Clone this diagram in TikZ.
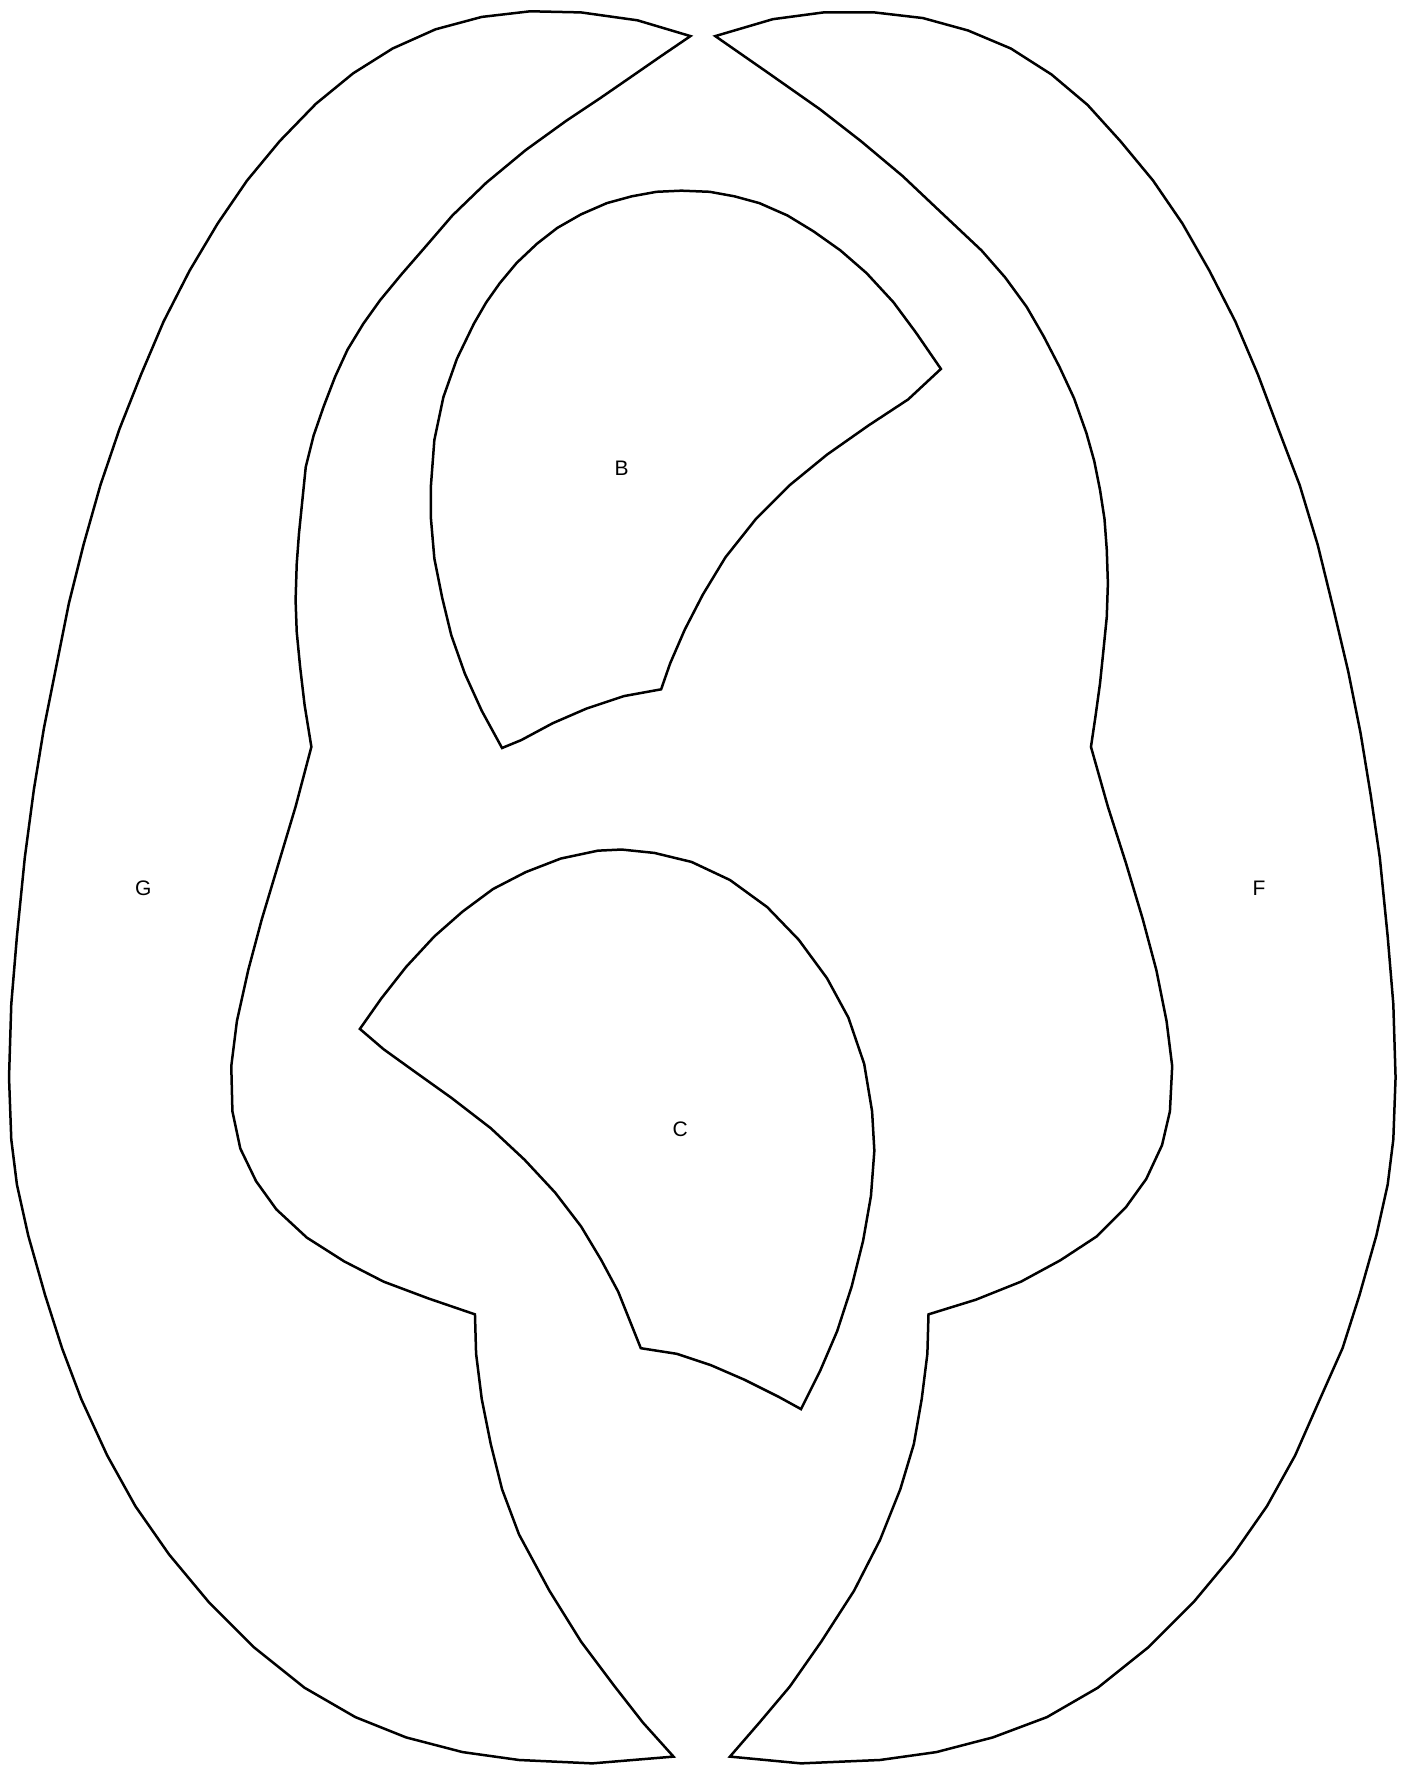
\documentclass[tikz,border=0pt]{standalone}
\usepackage{fontspec}
\setmainfont{Liberation Sans}
\begin{document}
\begin{tikzpicture}[x=1.1285pt,y=-1.1285pt,
  outline/.style={draw=black,line width=2.5pt,line join=miter},
  lbl/.style={font=\fontsize{21}{24}\selectfont,inner sep=0pt}]
\useasboundingbox[fill=white] (0,0) rectangle (1245,1568);
% G
\draw[outline] (612,32) -- (565,18) -- (515,11) -- (470,10) -- (427,15) -- (386,26) -- (348,43) -- (313,65) -- (280,92) -- (248,125) -- (219,160) -- (193,198) -- (168,240) -- (145,285) -- (125,332) -- (106,380) -- (89,430) -- (74,483) -- (61,535) -- (50,590) -- (39,645) -- (30,700) -- (22,760) -- (15,830) -- (10,890) -- (8,955) -- (10,1010) -- (15,1050) -- (25,1095) -- (40,1148) -- (55,1195) -- (72,1240) -- (95,1290) -- (120,1335) -- (150,1378) -- (185,1420) -- (225,1460) -- (270,1496) -- (315,1522) -- (360,1540) -- (410,1553) -- (460,1560) -- (525,1563) -- (597,1557)
 -- (570,1527) -- (545,1495) -- (515,1455) -- (487,1410) -- (460,1360) -- (445,1320) -- (435,1280) -- (427,1240) -- (422,1200) -- (421,1165)
 -- (380,1151) -- (340,1136) -- (305,1118) -- (272,1097) -- (245,1072) -- (227,1047) -- (213,1018) -- (206,985) -- (205,945) -- (210,905) -- (220,860) -- (232,815) -- (247,765) -- (262,715) -- (276,662)
 -- (270,625) -- (266,591) -- (263,560) -- (262,532) -- (263,500) -- (265,473) -- (271,414) -- (278,386) -- (287,360) -- (297,334) -- (308,310) -- (322,287) -- (337,266) -- (356,243) -- (376,220) -- (401,191) -- (431,162) -- (466,133) -- (502,107) -- (532,87) -- (561,67) -- (587,49) -- cycle;
% F
\draw[outline] (634,32) -- (685,17) -- (730,11) -- (775,11) -- (818,16) -- (858,27) -- (896,43) -- (932,66) -- (964,93) -- (993,125) -- (1022,160) -- (1048,198) -- (1072,240) -- (1095,285) -- (1115,332) -- (1133,380) -- (1152,430) -- (1168,483) -- (1182,540) -- (1195,595) -- (1206,650) -- (1215,705) -- (1223,760) -- (1230,830) -- (1235,890) -- (1237,955) -- (1235,1010) -- (1230,1050) -- (1220,1095) -- (1205,1148) -- (1190,1195) -- (1170,1240) -- (1148,1290) -- (1123,1335) -- (1093,1378) -- (1058,1420) -- (1018,1460) -- (973,1496) -- (928,1522) -- (880,1540) -- (830,1553) -- (780,1560) -- (710,1563) -- (647,1557)
 -- (673,1527) -- (700,1495) -- (728,1455) -- (757,1410) -- (780,1365) -- (798,1320) -- (810,1280) -- (817,1240) -- (822,1200) -- (823,1165)
 -- (865,1152) -- (905,1136) -- (940,1117) -- (972,1096) -- (998,1070) -- (1016,1045) -- (1030,1015) -- (1037,985) -- (1039,945) -- (1034,905) -- (1025,860) -- (1013,815) -- (998,765) -- (982,715) -- (967,662)
 -- (971,635) -- (975,606) -- (978,577) -- (981,547) -- (982,517) -- (981,487) -- (979,460) -- (975,434) -- (970,409) -- (963,384) -- (952,353) -- (939,325) -- (925,298) -- (910,272) -- (891,246) -- (870,222) -- (836,190) -- (800,156) -- (763,125) -- (727,97) -- (680,64) -- cycle;
% B
\draw[outline] (834,327) -- (812,295) -- (792,268) -- (768,242) -- (745,222) -- (721,205) -- (698,191) -- (673,180) -- (651,174) -- (629,170) -- (604,169) -- (582,170) -- (560,174) -- (538,180) -- (515,190) -- (494,202) -- (476,216) -- (458,233) -- (443,251) -- (431,268) -- (420,287) -- (405,318) -- (393,352) -- (385,390) -- (382,430) -- (382,460) -- (385,495) -- (392,530) -- (400,563) -- (412,597) -- (427,630) -- (445,663)
 -- (462,656) -- (490,641) -- (520,628) -- (553,617) -- (586,611)
 -- (594,588) -- (607,558) -- (623,527) -- (643,494) -- (670,460) -- (700,430) -- (733,403) -- (770,377) -- (805,354) -- cycle;
% C
\draw[outline] (319,912) -- (338,885) -- (360,857) -- (385,830) -- (410,808) -- (437,788) -- (466,773) -- (497,761) -- (530,754) -- (551,753) -- (580,756) -- (613,764) -- (647,780) -- (680,804) -- (708,833) -- (733,867) -- (752,902) -- (766,943) -- (773,985) -- (775,1020) -- (772,1060) -- (765,1100) -- (755,1140) -- (742,1180) -- (727,1215) -- (710,1249)
 -- (690,1238) -- (660,1223) -- (630,1210) -- (600,1200) -- (568,1195)
 -- (558,1170) -- (548,1145) -- (533,1117) -- (515,1087) -- (492,1057) -- (465,1028) -- (435,1000) -- (400,973) -- (365,948) -- (340,930) -- cycle;
\node[lbl] (labB) at (551,415) {B};
\node[lbl] (labC) at (603,1001) {C};
\node[lbl] (labG) at (127,787) {G};
\node[lbl] (labF) at (1116,787) {F};
\end{tikzpicture}
\end{document}
